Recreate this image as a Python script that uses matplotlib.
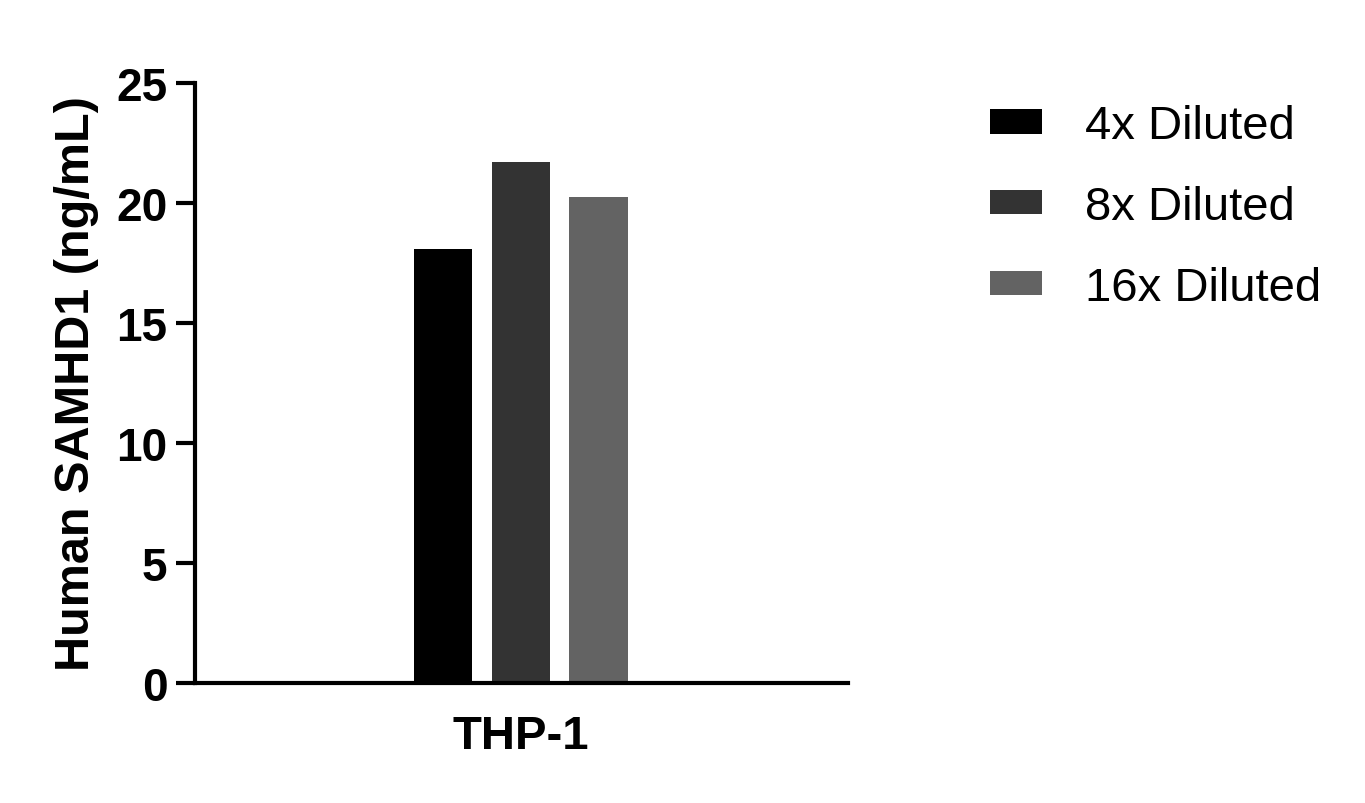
import numpy as np
import matplotlib
matplotlib.use("Agg")
import matplotlib.pyplot as plt

# Chart data
group = "THP-1"
series = ["4x Diluted", "8x Diluted", "16x Diluted"]
values = [18.1, 21.7, 20.25]
colors = ["#000000", "#333333", "#636363"]

plt.rcParams['font.family'] = ['Liberation Sans', 'DejaVu Sans']

fig = plt.figure(figsize=(13.65, 8.04), dpi=100)
ax = fig.add_axes([0.1429, 0.1493, 0.4784, 0.7462])

# bars side by side inside the single group
x = np.arange(len(series))
for i in range(len(series)):
    ax.bar(x[i], values[i], width=0.75, color=colors[i], label=series[i])

ax.set_xlim(-3.18, 5.2)
ax.set_ylim(0, 25)
ax.set_yticks([0, 5, 10, 15, 20, 25])
ax.set_xticks([1])
ax.set_xticklabels([group])

ax.spines['top'].set_visible(False)
ax.spines['right'].set_visible(False)
ax.spines['left'].set_linewidth(3)
ax.spines['bottom'].set_linewidth(3)
ax.tick_params(axis='y', length=14, width=3, labelsize=33, pad=6)
ax.tick_params(axis='x', length=0, labelsize=34, pad=22)
for lbl in ax.get_yticklabels() + ax.get_xticklabels():
    lbl.set_fontweight('bold')

ax.set_ylabel("Human SAMHD1 (ng/mL)", fontsize=35, fontweight='bold', labelpad=12)

leg = fig.legend(loc='upper left', bbox_to_anchor=(0.6945, 0.922), frameon=False,
                 fontsize=34, handlelength=1.1, handleheight=0.42,
                 handletextpad=0.9, labelspacing=0.78)

fig.savefig("out.png", dpi=100)
